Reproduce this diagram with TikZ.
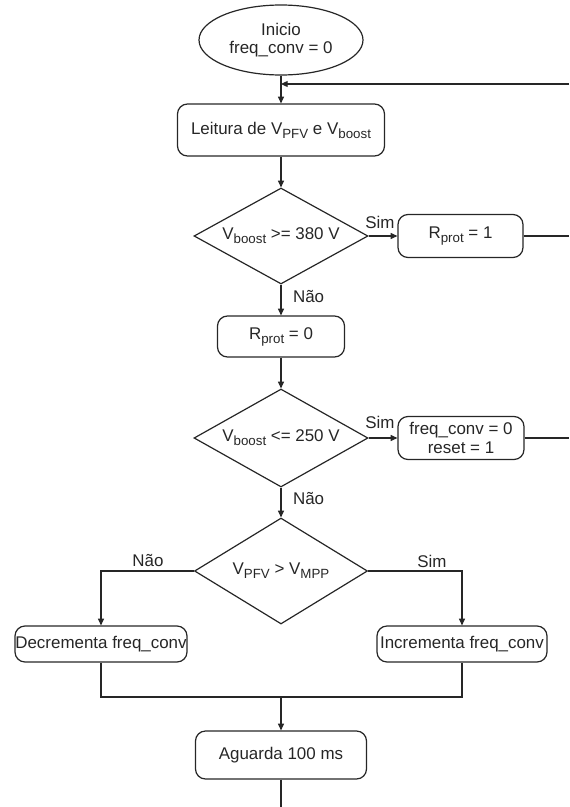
\documentclass[tikz,border=0pt]{standalone}
\usepackage{fontspec}
\setmainfont{Liberation Sans}
\usetikzlibrary{shapes.geometric,arrows.meta}

\newcommand{\ind}[1]{\raisebox{-0.45ex}{\fontsize{10}{10}\selectfont #1}}

\tikzset{
	caixa/.style={draw, rounded corners=7.5pt, inner sep=0pt, align=center},
	decisao/.style={draw, diamond, inner sep=0pt, align=center, shape aspect=#1},
	decisao/.default=1.8,
	seta/.style={-{Triangle[length=5pt,width=4.5pt]}},
}

\begin{document}
\begin{tikzpicture}[x=0.75pt,y=0.75pt,yscale=-1,xscale=1,line width=0.9pt,draw=black!85,text=black!85,font=\fontsize{12.7}{14}\selectfont]
		\useasboundingbox (0,0) rectangle (569,807);
		\node [draw, ellipse, inner sep=0pt, align=center, minimum width=123pt, minimum height=52.5pt] (inicio) at (281,40) {Inicio\\freq\_conv = 0};
		\node [caixa, minimum width=155.25pt, minimum height=39pt] (leitura) at (281,130) {Leitura de V\ind{PFV} e V\ind{boost}};
		\node [decisao, minimum width=130.5pt, minimum height=72pt] (vmax) at (281,236) {V\ind{boost} >= 380 V};
		\node [caixa, minimum width=93.75pt, minimum height=32.25pt] (rprotum) at (460.5,236) {R\ind{prot} = 1};
		\node [caixa, minimum width=95.25pt, minimum height=30.75pt] (rprotzero) at (281,336.5) {R\ind{prot} = 0};
		\node [decisao, minimum width=130.5pt, minimum height=73.5pt] (vmin) at (281,438) {V\ind{boost} <= 250 V};
		\node [caixa, minimum width=94.5pt, minimum height=32.25pt] (reset) at (461,438) {freq\_conv = 0\\reset = 1};
		\node [decisao=1.63, minimum width=129.75pt, minimum height=79.5pt] (vmpp) at (281,571) {V\ind{PFV} > V\ind{MPP}};
		\node [caixa, minimum width=129pt, minimum height=27pt] (decr) at (101,644) {Decrementa freq\_conv};
		\node [caixa, minimum width=127.5pt, minimum height=27pt] (incr) at (462,644) {Incrementa freq\_conv};
		\node [caixa, minimum width=128.25pt, minimum height=36pt] (aguarda) at (281,755) {Aguarda 100 ms};
		\coordinate (retorno) at (569,84);
		\coordinate (junta) at (281,697);
		\coordinate (fim) at (281,807);
		\draw [seta] (inicio.south) -- (leitura.north);
		\draw [seta] (retorno) -- (retorno -| inicio.south);
		\draw [seta] (leitura.south) -- (vmax.north);
		\draw [seta] (vmax.east) -- (rprotum.west);
		\draw (rprotum.east) -- (rprotum.east -| retorno);
		\draw [seta] (vmax.south) -- (rprotzero.north);
		\draw [seta] (rprotzero.south) -- (vmin.north);
		\draw [seta] (vmin.east) -- (reset.west);
		\draw (reset.east) -- (reset.east -| retorno);
		\draw [seta] (vmin.south) -- (vmpp.north);
		\draw [seta] (vmpp.west) -| (decr.north);
		\draw [seta] (vmpp.east) -| (incr.north);
		\draw (decr.south) |- (junta) -| (incr.south);
		\draw [seta] (junta) -- (aguarda.north);
		\draw (aguarda.south) -- (fim);
		\draw (380,222) node {Sim};
		\draw (288,297) node [anchor=west] {Não};
		\draw (380,422) node {Sim};
		\draw (288,499) node [anchor=west] {Não};
		\draw (148,561) node {Não};
		\draw (432,561) node {Sim};
\end{tikzpicture}
\end{document}
